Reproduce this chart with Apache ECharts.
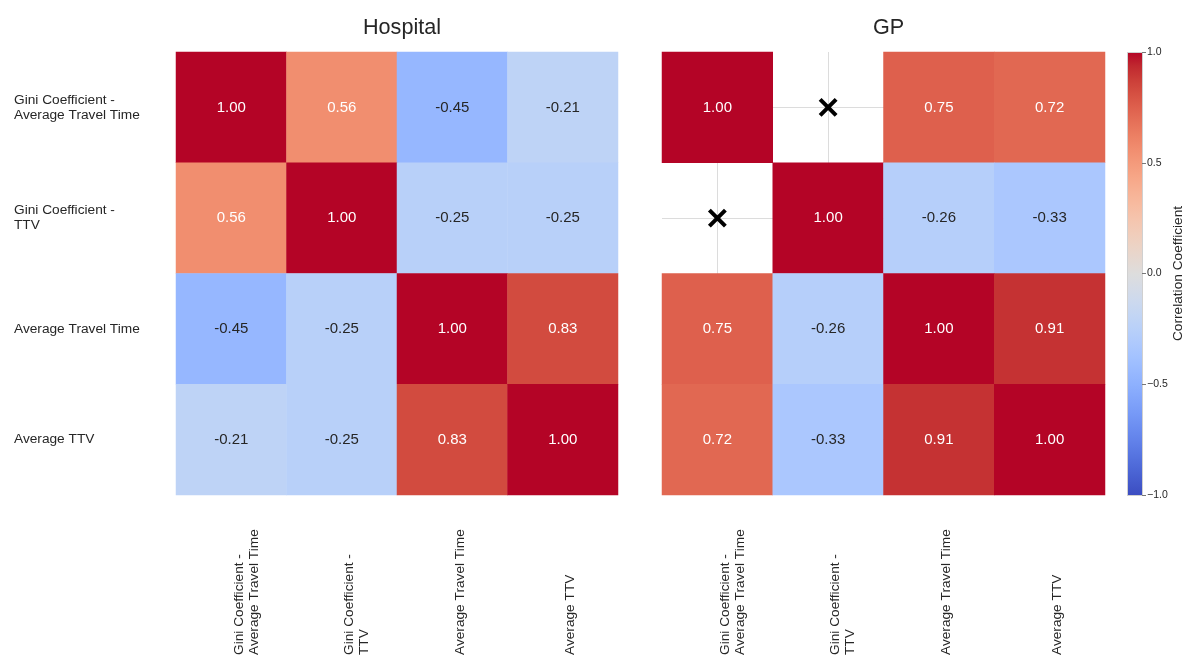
<!DOCTYPE html>
<html>
<head>
<meta charset="utf-8">
<script src="https://cdn.jsdelivr.net/npm/echarts@6/dist/echarts.min.js"></script>
<style>
html,body{margin:0;padding:0;background:#fff;}
#chart{width:1184px;height:658px;}
</style>
</head>
<body>
<div id="chart"></div>
<script>
const categories = ['Gini Coefficient -\nAverage Travel Time', 'Gini Coefficient -\nTTV', 'Average Travel Time', 'Average TTV'];
const panelTitles = ['Hospital', 'GP'];
const hospital = [
  [1.00, 0.56, -0.45, -0.21],
  [0.56, 1.00, -0.25, -0.25],
  [-0.45, -0.25, 1.00, 0.83],
  [-0.21, -0.25, 0.83, 1.00]
];
const gp = [
  [1.00, null, 0.75, 0.72],
  [null, 1.00, -0.26, -0.33],
  [0.75, -0.26, 1.00, 0.91],
  [0.72, -0.33, 0.91, 1.00]
];
const colorbarTicks = [-1, -0.5, 0, 0.5, 1];
const colorbarLabel = 'Correlation Coefficient';

const coolwarm = ['#3b4cc0','#445acc','#4d68d7','#5775e1','#6282ea','#6c8ef1','#779af7','#82a5fb','#8db0fe','#98b9ff','#a3c2ff','#aec9fd','#b8d0f9','#c2d5f4','#ccd9ee','#d5dbe6','#dddddd','#e5d8d1','#ecd3c5','#f1ccb9','#f5c4ad','#f7bba0','#f7b194','#f7a687','#f49a7b','#f18d6f','#ec7f63','#e57058','#de604d','#d55042','#cb3e38','#c0282f','#b40426'];

const FONT = '"Liberation Sans", Arial, Helvetica, sans-serif';
const TXT = '#262626';

function heatData(m) {
  const out = [];
  m.forEach((row, r) => row.forEach((v, c) => {
    if (v !== null) out.push({ value: [c, r, v], label: { color: v > 0.5 ? '#ffffff' : TXT } });
  }));
  return out;
}
function nanData(m) {
  const out = [];
  m.forEach((row, r) => row.forEach((v, c) => { if (v === null) out.push([c, r]); }));
  return out;
}

const gridPos = [
  { left: 176, top: 52, width: 442, height: 443 },
  { left: 662, top: 52, width: 443, height: 443 },
  { left: 1127, top: 52, width: 15, height: 443 }
];

const xAxes = [0, 1].map(i => ({
  type: 'category', gridIndex: i, data: categories, position: 'bottom',
  axisLine: { show: false }, axisTick: { show: false }, splitLine: { show: false },
  axisLabel: {
    rotate: 90, align: 'left', verticalAlign: 'top', margin: 160,
    fontSize: 13.7, lineHeight: 15, color: TXT, fontFamily: FONT, interval: 0
  }
}));
xAxes.push({ type: 'value', gridIndex: 2, min: 0, max: 1, show: false });

const yAxes = [0, 1].map(i => ({
  type: 'category', gridIndex: i, data: categories, inverse: true,
  axisLine: { show: false }, axisTick: { show: false }, splitLine: { show: false },
  axisLabel: {
    show: i === 0, align: 'left', margin: 162,
    fontSize: 13.7, lineHeight: 15, color: TXT, fontFamily: FONT, interval: 0
  }
}));
yAxes.push({
  type: 'value', gridIndex: 2, min: -1, max: 1, interval: 0.5, position: 'right',
  axisLine: { show: false, onZero: false }, splitLine: { show: false },
  axisTick: { show: true, length: 4, lineStyle: { color: '#777', width: 1 } },
  axisLabel: {
    margin: 5, fontSize: 10.5, color: TXT, fontFamily: FONT,
    formatter: v => (v < 0 ? '\u2212' : '') + Math.abs(v).toFixed(1)
  },
  name: colorbarLabel, nameLocation: 'middle', nameRotate: 90, nameGap: 29,
  nameMoveOverlap: false,
  nameTextStyle: { fontSize: 13.7, color: TXT, fontFamily: FONT }
});

const gridLines = {
  silent: true, symbol: 'none', z: 1,
  label: { show: false },
  lineStyle: { color: '#dcdcdc', width: 1, type: 'solid' },
  emphasis: { disabled: true },
  data: categories.map((c, i) => ({ xAxis: i })).concat(categories.map((c, i) => ({ yAxis: i })))
};

const labelStyle = {
  show: true, fontSize: 15, fontFamily: FONT,
  formatter: p => p.value[2].toFixed(2)
};

const option = {
  backgroundColor: '#ffffff',
  animation: false,
  textStyle: { fontFamily: FONT },
  title: panelTitles.map((t, i) => ({
    text: t,
    left: gridPos[i].left + gridPos[i].width / 2,
    textAlign: 'center',
    top: 12,
    textStyle: { fontSize: 21.6, fontWeight: 'normal', color: TXT, fontFamily: FONT }
  })),
  grid: gridPos.map(g => Object.assign({ containLabel: false, outerBoundsMode: 'none' }, g)),
  xAxis: xAxes,
  yAxis: yAxes,
  visualMap: {
    type: 'continuous', show: false, min: -1, max: 1, dimension: 2,
    seriesIndex: [0, 1], inRange: { color: coolwarm }
  },
  graphic: [{
    type: 'rect', left: 1127, top: 52, z: 0,
    shape: { width: 15, height: 443 },
    style: {
      fill: new echarts.graphic.LinearGradient(0, 1, 0, 0,
        coolwarm.map((c, i) => ({ offset: i / (coolwarm.length - 1), color: c }))),
      stroke: '#d0d0d0', lineWidth: 1
    }
  }],
  series: [
    {
      type: 'heatmap', xAxisIndex: 0, yAxisIndex: 0, data: heatData(hospital),
      label: labelStyle, emphasis: { disabled: true }, z: 2
    },
    {
      type: 'heatmap', xAxisIndex: 1, yAxisIndex: 1, data: heatData(gp),
      label: labelStyle, emphasis: { disabled: true }, z: 2,
      markLine: gridLines
    },
    {
      type: 'scatter', xAxisIndex: 1, yAxisIndex: 1, data: nanData(gp),
      symbol: 'path://M0,0L20,20M20,0L0,20', symbolSize: 16, z: 3,
      itemStyle: { color: 'rgba(0,0,0,0)', borderColor: '#000000', borderWidth: 4, opacity: 1 },
      emphasis: { disabled: true }, silent: true
    }
  ]
};

const chart = echarts.init(document.getElementById('chart'), null, { renderer: 'canvas' });
chart.setOption(option);
</script>
</body>
</html>
